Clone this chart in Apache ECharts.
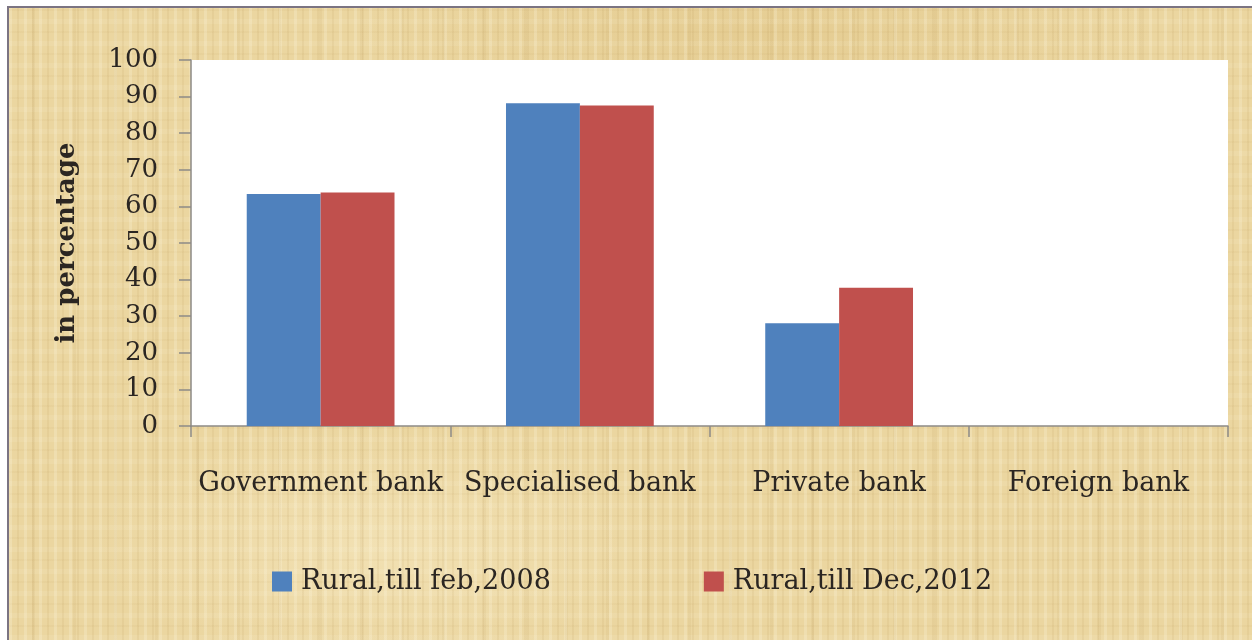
<!DOCTYPE html>
<html>
<head>
<meta charset="utf-8">
<script src="https://cdn.jsdelivr.net/npm/echarts@6/dist/echarts.min.js"></script>
<style>
  html, body { margin: 0; padding: 0; background: #ffffff; }
  #frame {
    position: absolute; left: 7px; top: 6px; right: 0; bottom: 0;
    border-left: 2px solid #7b7482; border-top: 2px solid #7b7482;
    background-color: #ebd6a0;
    background-image:
      repeating-linear-gradient(90deg, rgba(255,250,230,0.22) 0 3px, rgba(0,0,0,0) 3px 8px, rgba(170,130,60,0.09) 8px 10px, rgba(0,0,0,0) 10px 15px),
      repeating-linear-gradient(90deg, rgba(0,0,0,0) 0 23px, rgba(160,120,50,0.07) 23px 26px, rgba(0,0,0,0) 26px 41px),
      repeating-linear-gradient(0deg, rgba(255,250,230,0.10) 0 5px, rgba(0,0,0,0) 5px 13px, rgba(165,125,55,0.05) 13px 15px, rgba(0,0,0,0) 15px 22px),
      radial-gradient(ellipse 300px 120px at 30% 85%, rgba(255,245,215,0.35), rgba(0,0,0,0)),
      radial-gradient(ellipse 400px 80px at 60% 4%, rgba(200,160,80,0.18), rgba(0,0,0,0));
  }
  #chart { position: absolute; left: 0; top: 0; width: 1252px; height: 640px; }
</style>
</head>
<body>
<div id="frame"></div>
<div id="chart"></div>
<script>
// Share of bank branches in rural areas, by bank type
const categories = ['Government bank', 'Specialised bank', 'Private bank', 'Foreign bank'];
const seriesNames = ['Rural,till feb,2008', 'Rural,till Dec,2012'];
const rural2008 = [63.4, 88.2, 28.1, 0];
const rural2012 = [63.8, 87.6, 37.8, 0];
const yTicks = { min: 0, max: 100, interval: 10 };

const serif = '"DejaVu Serif", "Liberation Serif", serif';
const textColor = '#2b2622';
const axisColor = '#8d8a86';

const chart = echarts.init(document.getElementById('chart'), null, { renderer: 'canvas' });
chart.setOption({
  backgroundColor: 'transparent',
  animation: false,
  color: ['#4f81bd', '#c0504d'],
  grid: {
    left: 191, right: 24, top: 60, bottom: 214,
    show: true, backgroundColor: '#ffffff', borderWidth: 0
  },
  legend: {
    data: seriesNames,
    left: 272, top: 568, padding: 0,
    itemWidth: 20, itemHeight: 20, itemGap: 153,
    icon: 'rect',
    textStyle: { fontFamily: serif, fontSize: 27, color: textColor, padding: [0, 0, 0, 4] }
  },
  xAxis: {
    type: 'category',
    data: categories,
    axisLine: { lineStyle: { color: axisColor, width: 1.5 } },
    axisTick: { show: true, length: 11, inside: false, lineStyle: { color: axisColor, width: 1.5 } },
    axisLabel: { fontFamily: serif, fontSize: 27, color: textColor, margin: 44, interval: 0 }
  },
  yAxis: {
    type: 'value',
    min: yTicks.min, max: yTicks.max, interval: yTicks.interval,
    name: 'in percentage',
    nameLocation: 'middle',
    nameGap: 111,
    nameTextStyle: { fontFamily: serif, fontSize: 26, fontWeight: 'bold', color: textColor },
    axisLine: { show: true, lineStyle: { color: axisColor, width: 1.5 } },
    axisTick: { show: true, length: 12, inside: false, lineStyle: { color: axisColor, width: 1.5 } },
    splitLine: { show: false },
    axisLabel: { fontFamily: serif, fontSize: 26, color: textColor, margin: 33 }
  },
  series: [
    { name: seriesNames[0], type: 'bar', data: rural2008, barGap: '0%', barCategoryGap: '43%' },
    { name: seriesNames[1], type: 'bar', data: rural2012, barGap: '0%', barCategoryGap: '43%' }
  ]
});
</script>
</body>
</html>
